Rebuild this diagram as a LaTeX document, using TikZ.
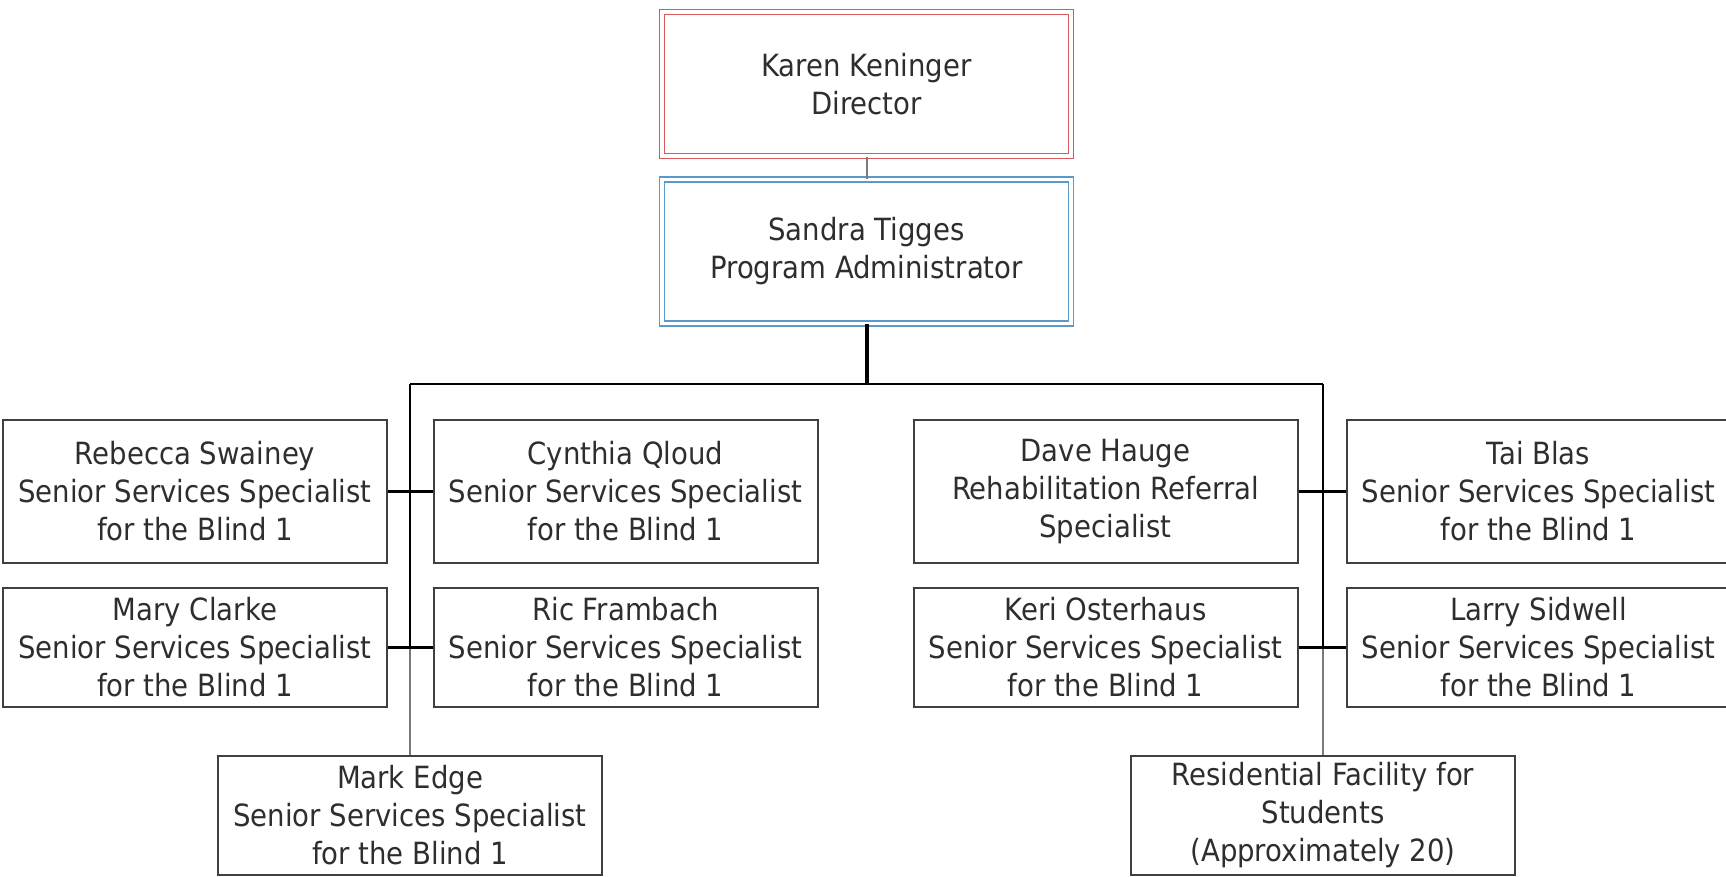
\documentclass[tikz,border=0pt]{standalone}
\usepackage{fontspec}
\setmainfont{DejaVu Sans}[FakeStretch=0.9]
\newcommand\boxfont{\fontsize{15.3pt}{19pt}\selectfont}
\definecolor{boxc}{HTML}{404040}
\definecolor{txt}{HTML}{2E2E2E}
\definecolor{redc}{HTML}{D8585C}
\definecolor{bluec}{HTML}{5A9ACB}
\definecolor{grayc}{HTML}{7A7A7A}
\begin{document}
\begin{tikzpicture}[x=0.5pt,y=-0.5pt,
  box/.style={draw=boxc, line width=1pt, text=txt, align=center, inner sep=0pt,
    minimum width=192pt, minimum height=71.5pt, font=\boxfont},
  lowbox/.style={box, minimum height=59.5pt},
  topbox/.style={box, minimum width=204.5pt, minimum height=72pt, line width=0.9pt,
    double=white, double distance=1.6pt},
  link/.style={draw=black, line width=1.1pt},
  thin/.style={draw=grayc, line width=1.1pt},
  trunk/.style={draw=black, line width=2pt}]
\useasboundingbox (0,0) rectangle (1726,877);
\node[topbox, draw=redc] (dir) at (866.5,84) {Karen Keninger\\Director};
\node[topbox, draw=bluec] (adm) at (866.5,251.5) {Sandra Tigges\\Program Administrator};
\node[box] (reb) at (195,491.5) {Rebecca Swainey\\Senior Services Specialist\\for the Blind 1};
\node[lowbox] (mar) at (195,647.5) {Mary Clarke\\Senior Services Specialist\\for the Blind 1};
\node[box] (cyn) at (625.5,491.5) {Cynthia Qloud\\Senior Services Specialist\\for the Blind 1};
\node[lowbox] (ric) at (625.5,647.5) {Ric Frambach\\Senior Services Specialist\\for the Blind 1};
\node[box] (dav) at (1105.5,491.5) {Dave Hauge\\Rehabilitation Referral\\Specialist};
\node[lowbox] (ker) at (1105.5,647.5) {Keri Osterhaus\\Senior Services Specialist\\for the Blind 1};
\node[box] (tai) at (1538.5,491.5) {Tai Blas\\Senior Services Specialist\\for the Blind 1};
\node[lowbox] (lar) at (1538.5,647.5) {Larry Sidwell\\Senior Services Specialist\\for the Blind 1};
\node[lowbox] (mrk) at (410,815.5) {Mark Edge\\Senior Services Specialist\\for the Blind 1};
\node[lowbox] (res) at (1323,815.5) {Residential Facility for\\Students\\(Approximately 20)};
\coordinate (bl) at (410,384);
\coordinate (br) at (1323,384);
\draw[draw=grayc, line width=1pt] (dir.south) -- (adm.north);
\draw[trunk] (adm.south) -- (adm.south |- bl);
\draw[link] (bl) -- (br);
\draw[link] (bl) -- (bl |- mar.east);
\draw[thin] (bl |- mar.east) -- (mrk.north);
\draw[link] (br) -- (br |- ker.east);
\draw[thin] (br |- ker.east) -- (res.north);
\draw[link] (reb.east) -- (cyn.west);
\draw[link] (mar.east) -- (ric.west);
\draw[link] (dav.east) -- (tai.west);
\draw[link] (ker.east) -- (lar.west);
\end{tikzpicture}
\end{document}
